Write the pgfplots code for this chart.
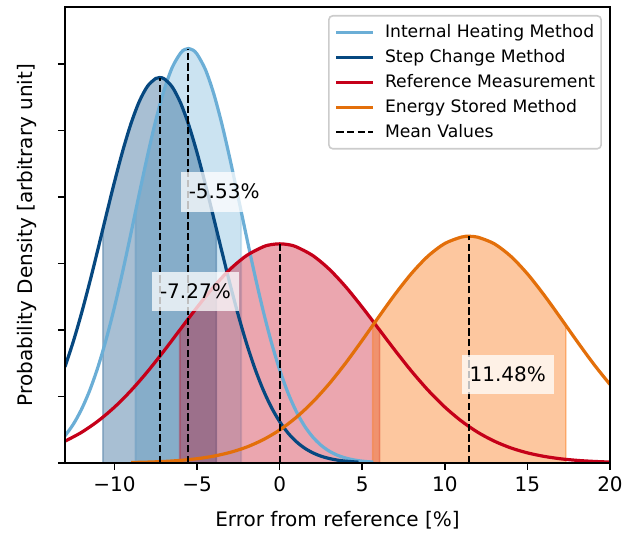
\documentclass[border=0pt]{standalone}
\usepackage{fontspec}
\setmainfont{DejaVu Sans}
\usepackage{pgfplots}
\pgfplotsset{compat=1.18}

\definecolor{ihblue}{RGB}{107,174,214}
\definecolor{scblue}{RGB}{6,72,128}
\definecolor{refred}{RGB}{197,0,25}
\definecolor{esorange}{RGB}{227,111,10}
\definecolor{esfill}{RGB}{250,116,14}

\begin{document}
\begin{tikzpicture}
\begin{axis}[
    scale only axis,
    width=272.5pt,
    height=228pt,
    xmin=-13, xmax=20,
    ymin=0, ymax=0.1372,
    axis on top,
    axis line style={line width=0.8pt},
    tick align=outside,
    xtick pos=bottom,
    ytick pos=left,
    major tick length=3.5pt,
    every tick/.style={black, line width=0.8pt},
    xtick={-10,-5,0,5,10,15,20},
    xticklabels={−10,−5,0,5,10,15,20},
    ytick={0,0.02,0.04,0.06,0.08,0.1,0.12},
    yticklabels={,,,,,,,},
    scaled y ticks=false,
    label style={font=\fontsize{10.3}{12}\selectfont},
    every axis x label/.style={at={(axis description cs:0.5,0)}, anchor=center, yshift=-28.5pt},
    every axis y label/.style={at={(axis description cs:-0.0697,0.5)}, rotate=90, anchor=center},
    xlabel={Error from reference [\%]},
    ylabel={Probability Density [arbitrary unit]},
    legend cell align=left,
    legend image code/.code={\draw[#1] (0pt,0pt) -- (18.5pt,0pt);},
    legend style={at={(0.9853,0.9825)}, anchor=north east,
        font=\fontsize{8.6}{10}\selectfont,
        draw=black!20, rounded corners=2pt, line width=0.8pt,
        inner xsep=3pt, inner ysep=2pt, row sep=0pt, column sep=5pt,
        nodes={inner sep=0pt, text height=9pt, text depth=3.5pt}},
]

% bandas de +-1 sigma
\addplot[forget plot, fill=ihblue, draw=ihblue, opacity=0.35, line width=0.8pt] coordinates {
(-8.73,0) (-8.73,0.07563) (-8.5,0.08107) (-8,0.09257) (-7.5,0.10317) (-7,0.11221)
(-6.5,0.11910) (-6,0.12336) (-5.75,0.12441) (-5.53,0.12470) (-5.25,0.12422) (-5,0.12300)
(-4.5,0.11840) (-4,0.11123) (-3.5,0.10197) (-3,0.09123) (-2.5,0.07965) (-2.33,0.07563) (-2.33,0)
} \closedcycle;
\addplot[forget plot, fill=scblue, draw=scblue, opacity=0.35, line width=0.8pt] coordinates {
(-10.71,0) (-10.71,0.07034) (-10.5,0.07463) (-10,0.08464) (-9.5,0.09399) (-9,0.10219)
(-8.5,0.10879) (-8,0.11339) (-7.5,0.11571) (-7.27,0.11597) (-7,0.11561) (-6.5,0.11310)
(-6,0.10833) (-5.5,0.10159) (-5,0.09328) (-4.5,0.08386) (-4,0.07381) (-3.83,0.07034) (-3.83,0)
} \closedcycle;
\addplot[forget plot, fill=refred, draw=refred, opacity=0.35, line width=0.8pt] coordinates {
(-6.05,0) (-6.05,0.04000) (-6,0.04033) (-5,0.04686) (-4,0.05300) (-3,0.05831) (-2,0.06243)
(-1,0.06505) (-0.5,0.06572) (0,0.06594) (0.5,0.06572) (1,0.06505) (2,0.06243) (3,0.05831)
(4,0.05300) (5,0.04686) (6,0.04033) (6.05,0.04000) (6.05,0)
} \closedcycle;
\addplot[forget plot, fill=esfill, draw=esfill, opacity=0.4, line width=0.8pt] coordinates {
(5.63,0) (5.63,0.04137) (6,0.04398) (7,0.05087) (8,0.05714) (9,0.06234) (10,0.06605)
(11,0.06797) (11.48,0.06820) (12,0.06793) (13,0.06594) (14,0.06216) (15,0.05691)
(16,0.05060) (17,0.04370) (17.33,0.04137) (17.33,0)
} \closedcycle;

% curvas
\addplot[ihblue, line width=1.6pt, smooth] coordinates {
(-13,0.00818) (-12.5,0.01163) (-12,0.01615) (-11.5,0.02188) (-11,0.02894) (-10.5,0.03733)
(-10,0.04701) (-9.5,0.05776) (-9,0.06927) (-8.5,0.08107) (-8,0.09257) (-7.5,0.10317)
(-7,0.11221) (-6.5,0.11910) (-6,0.12336) (-5.75,0.12441) (-5.53,0.12470) (-5.25,0.12422)
(-5,0.12300) (-4.5,0.11840) (-4,0.11123) (-3.5,0.10197) (-3,0.09123) (-2.5,0.07965)
(-2,0.06786) (-1.5,0.05642) (-1,0.04578) (-0.5,0.03625) (0,0.02801) (0.5,0.02113)
(1,0.01555) (1.5,0.01117) (2,0.00783) (2.5,0.00535) (3,0.00357) (3.5,0.00233)
(4,0.00148) (4.5,0.00092) (5,0.00055) (5.67,0.00027)
};
\addlegendentry{Internal Heating Method}

\addplot[scblue, line width=1.6pt, smooth] coordinates {
(-13,0.02896) (-12.5,0.03651) (-12,0.04506) (-11.5,0.05445) (-11,0.06442) (-10.5,0.07463)
(-10,0.08464) (-9.5,0.09399) (-9,0.10219) (-8.5,0.10879) (-8,0.11339) (-7.5,0.11571)
(-7.27,0.11597) (-7,0.11561) (-6.5,0.11310) (-6,0.10833) (-5.5,0.10159) (-5,0.09328)
(-4.5,0.08386) (-4,0.07381) (-3.5,0.06361) (-3,0.05368) (-2.5,0.04434) (-2,0.03587)
(-1.5,0.02841) (-1,0.02202) (-0.5,0.01672) (0,0.01243) (0.5,0.00905) (1,0.00645)
(1.5,0.00450) (2,0.00307) (2.5,0.00205) (3,0.00135) (3.5,0.00086) (4,0.00054) (4.77,0.00025)
};
\addlegendentry{Step Change Method}

\addplot[refred, line width=1.6pt, smooth] coordinates {
(-13,0.00656) (-12,0.00922) (-11,0.01263) (-10,0.01682) (-9,0.02181) (-8,0.02751)
(-7,0.03377) (-6,0.04033) (-5,0.04686) (-4,0.05300) (-3,0.05831) (-2,0.06243)
(-1,0.06505) (-0.5,0.06572) (0,0.06594) (0.5,0.06572) (1,0.06505) (2,0.06243)
(3,0.05831) (4,0.05300) (5,0.04686) (6,0.04033) (7,0.03377) (8,0.02751) (9,0.02181)
(10,0.01682) (11,0.01263) (12,0.00922) (13,0.00656) (14,0.00453) (15,0.00305)
(16,0.00200) (17,0.00127) (18,0.00079) (19,0.00048) (20,0.00028)
};
\addlegendentry{Reference Measurement}

\addplot[esorange, line width=1.6pt, smooth] coordinates {
(-8.995,0.00015) (-8,0.00027) (-7,0.00046) (-6,0.00079) (-5,0.00129) (-4,0.00206)
(-3,0.00319) (-2,0.00479) (-1,0.00701) (0,0.00994) (1,0.01371) (2,0.01835)
(3,0.02385) (4,0.03011) (5,0.03693) (6,0.04398) (7,0.05087) (8,0.05714) (9,0.06234)
(10,0.06605) (11,0.06797) (11.48,0.06820) (12,0.06793) (13,0.06594) (14,0.06216)
(15,0.05691) (16,0.05060) (17,0.04370) (18,0.03665) (19,0.02985) (20,0.02362)
};
\addlegendentry{Energy Stored Method}

% medias
\addplot[forget plot, black, line width=1pt, dash pattern=on 3.7pt off 1.6pt] coordinates {(-5.53,0) (-5.53,0.12470)};
\addplot[forget plot, black, line width=1pt, dash pattern=on 3.7pt off 1.6pt] coordinates {(-7.27,0) (-7.27,0.11597)};
\addplot[forget plot, black, line width=1pt, dash pattern=on 3.7pt off 1.6pt] coordinates {(0,0) (0,0.06594)};
\addplot[black, line width=1pt, dash pattern=on 3.7pt off 1.6pt] coordinates {(11.48,0) (11.48,0.06820)};
\addlegendentry{Mean Values}

\node[fill=white, fill opacity=0.75, text opacity=1, inner sep=4pt, text height=9.3pt, text depth=2.4pt, anchor=west, xshift=-4pt] at (axis cs:-5.53,0.08159) {-5.53\%};
\node[fill=white, fill opacity=0.75, text opacity=1, inner sep=4pt, text height=9.3pt, text depth=2.4pt, anchor=west, xshift=-4pt] at (axis cs:-7.27,0.05167) {-7.27\%};
\node[fill=white, fill opacity=0.75, text opacity=1, inner sep=4pt, text height=9.3pt, text depth=2.4pt, anchor=west, xshift=-4pt] at (axis cs:11.48,0.02656) {11.48\%};

\end{axis}
\path[use as bounding box] ([xshift=-32.5pt,yshift=-35.5pt]current axis.south west) rectangle ([xshift=284pt,yshift=231.5pt]current axis.south west);
\end{tikzpicture}
\end{document}
